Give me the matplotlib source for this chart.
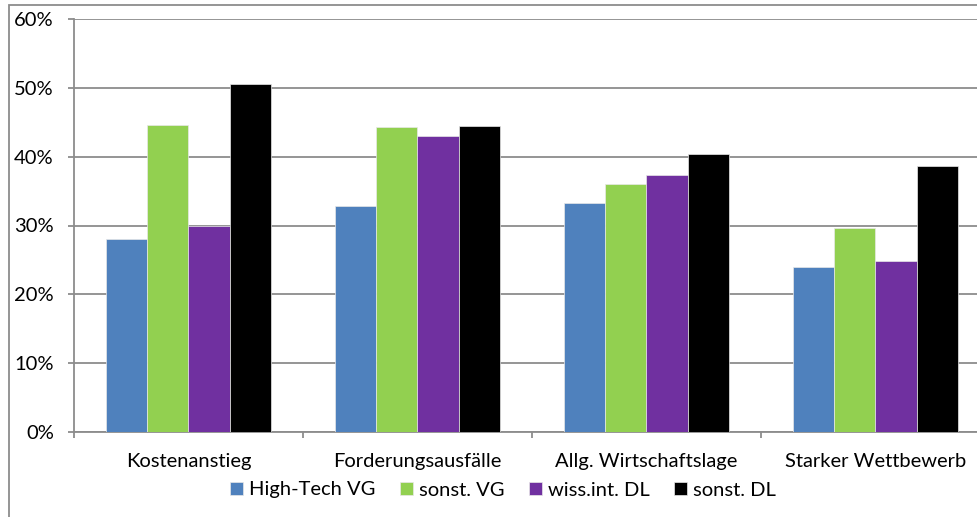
import matplotlib
matplotlib.use("Agg")
import matplotlib.pyplot as plt
from matplotlib.patches import Rectangle
from matplotlib.ticker import FuncFormatter, FixedLocator
import numpy as np

categories = ["Kostenanstieg", "Forderungsausfälle", "Allg. Wirtschaftslage", "Starker Wettbewerb"]
series_names = ["High-Tech VG", "sonst. VG", "wiss.int. DL", "sonst. DL"]
high_tech_vg = [28.1, 32.9, 33.3, 24.0]
sonst_vg = [44.6, 44.3, 36.0, 29.7]
wiss_int_dl = [30.0, 43.0, 37.4, 24.8]
sonst_dl = [50.5, 44.5, 40.4, 38.7]
colors = ["#4F81BD", "#92D050", "#7030A0", "#000000"]

plt.rcParams['font.family'] = ['Lato', 'DejaVu Sans']
FS = 14.5

fig = plt.figure(figsize=(9.78, 5.17), dpi=100)
ax = fig.add_axes([74/978, 85/517, (990-74)/978, (432-19)/517])

# figure border
fig.patches.append(Rectangle((9/978, -0.05), 1.2, 1 - 5/517 + 0.05, transform=fig.transFigure,
                             fill=False, edgecolor="#8C8C8C", linewidth=1.3))

x = np.arange(len(categories))
w = 0.181
data = [high_tech_vg, sonst_vg, wiss_int_dl, sonst_dl]
for i, (vals, c, name) in enumerate(zip(data, colors, series_names)):
    ax.bar(x + (i - 1.5) * w, vals, width=w, color=c, label=name,
           edgecolor="#E8E8E8", linewidth=0.5, zorder=3)

ax.set_xlim(-0.5, 3.5)
ax.set_ylim(0, 60)
ax.set_yticks(np.arange(0, 61, 10))
ax.yaxis.set_major_formatter(FuncFormatter(lambda v, p: f"{int(v)}%"))
ax.grid(axis='y', color="#8C8C8C", linewidth=1.3, zorder=0)
ax.set_axisbelow(True)

ax.set_xticks(x)
ax.set_xticklabels(categories)
ax.xaxis.set_minor_locator(FixedLocator([-0.5, 0.5, 1.5, 2.5, 3.5]))
ax.tick_params(axis='x', which='major', length=0, pad=15, labelsize=FS, colors="#000000")
ax.tick_params(axis='x', which='minor', length=4.5, width=1.3, color="#8C8C8C", direction='out')
ax.tick_params(axis='y', length=4.5, width=1.3, color="#8C8C8C", labelsize=FS, pad=10)

for s in ['top', 'right']:
    ax.spines[s].set_visible(False)
for s in ['left', 'bottom']:
    ax.spines[s].set_color("#8C8C8C")
    ax.spines[s].set_linewidth(1.3)

ax.legend(loc='center', bbox_to_anchor=(503/978, 1 - 490/517), bbox_transform=fig.transFigure,
          ncol=4, frameon=False, fontsize=FS, handlelength=0.65, handleheight=0.65,
          handletextpad=0.3, columnspacing=1.2, borderpad=0)

fig.savefig("out.png", dpi=100)
